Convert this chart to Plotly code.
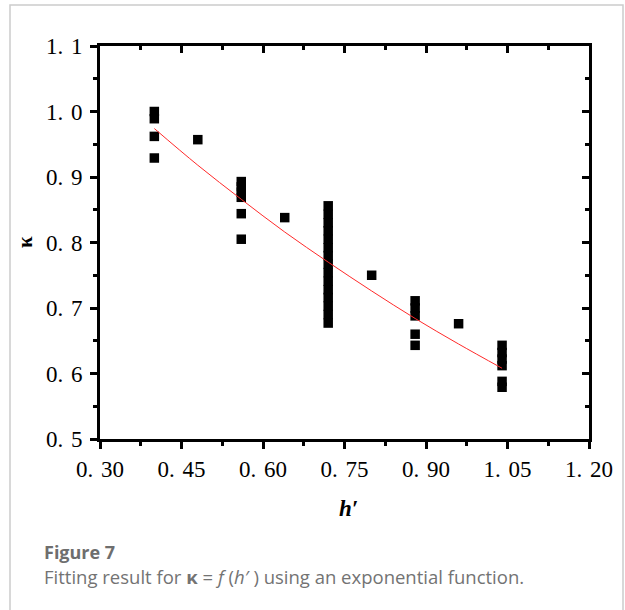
import plotly.graph_objects as go

# ---- data ----
h_points = [0.40, 0.40, 0.40, 0.40,
            0.48,
            0.56, 0.56, 0.56, 0.56, 0.56, 0.56,
            0.64,
            0.72, 0.72, 0.72, 0.72, 0.72, 0.72, 0.72, 0.72, 0.72, 0.72, 0.72, 0.72, 0.72, 0.72, 0.72,
            0.80,
            0.88, 0.88, 0.88, 0.88, 0.88,
            0.96,
            1.04, 1.04, 1.04, 1.04, 1.04, 1.04]
kappa_points = [1.000, 0.989, 0.962, 0.929,
                0.957,
                0.893, 0.885, 0.877, 0.869, 0.844, 0.805,
                0.838,
                0.856, 0.843, 0.830, 0.818, 0.805, 0.792, 0.780, 0.767, 0.754, 0.741, 0.728, 0.716, 0.703, 0.690, 0.677,
                0.750,
                0.711, 0.700, 0.688, 0.660, 0.643,
                0.676,
                0.643, 0.632, 0.622, 0.612, 0.588, 0.579]

fit_h = [0.40, 0.48, 0.56, 0.64, 0.72, 0.80, 0.88, 0.96, 1.04]
fit_kappa = [0.974, 0.918, 0.866, 0.816, 0.770, 0.726, 0.684, 0.645, 0.608]

x_tickvals = [0.30, 0.45, 0.60, 0.75, 0.90, 1.05, 1.20]
x_ticktext = ["0.\u200430", "0.\u200445", "0.\u200460", "0.\u200475", "0.\u200490", "1.\u200405", "1.\u200420"]
y_tickvals = [0.5, 0.6, 0.7, 0.8, 0.9, 1.0, 1.1]
y_ticktext = ["0.\u20045", "0.\u20046", "0.\u20047", "0.\u20048", "0.\u20049", "1.\u20040", "1.\u20041"]

# ---- layout geometry (pixels) ----
W, H = 625, 610
L, R, T, B = 100, 589, 46, 439
def px_x(p):
    return (p - L) / (R - L)
def px_y(p):
    return (B - p) / (B - T)

fig = go.Figure()
fig.add_trace(go.Scatter(x=h_points, y=kappa_points, mode="markers",
                         marker=dict(symbol="square", size=9.5, color="black",
                                     line=dict(width=0)),
                         showlegend=False, hoverinfo="skip"))
fig.add_trace(go.Scatter(x=fit_h, y=fit_kappa, mode="lines",
                         line=dict(color="#ff2a2a", width=1, shape="spline"),
                         showlegend=False, hoverinfo="skip"))
# dummy trace for the mirrored (top/right) tick axes
fig.add_trace(go.Scatter(x=[None], y=[None], xaxis="x2", yaxis="y2",
                         showlegend=False, hoverinfo="skip"))

tickfont = dict(family="Liberation Serif", size=23, color="black")
x_minor = [0.375, 0.525, 0.675, 0.825, 0.975, 1.125]
y_minor = [0.55, 0.65, 0.75, 0.85, 0.95, 1.05]
fig.update_layout(
    width=W, height=H,
    margin=dict(l=L, r=W - R, t=T, b=H - B),
    paper_bgcolor="white", plot_bgcolor="white",
    xaxis=dict(range=[0.30, 1.20], tickvals=x_tickvals, ticktext=x_ticktext,
               ticks="outside", ticklen=7, tickwidth=3, tickcolor="black",
               showline=True, linewidth=3, linecolor="black", mirror=True,
               showgrid=False, zeroline=False, tickfont=tickfont,
               ticklabelstandoff=0,
               minor=dict(tickvals=x_minor, ticks="outside", ticklen=4,
                          tickwidth=3, tickcolor="black")),
    yaxis=dict(range=[0.5, 1.1], tickvals=y_tickvals, ticktext=y_ticktext,
               ticks="outside", ticklen=7, tickwidth=3, tickcolor="black",
               showline=True, linewidth=3, linecolor="black", mirror=True,
               showgrid=False, zeroline=False, tickfont=tickfont,
               ticklabelstandoff=3,
               minor=dict(tickvals=y_minor, ticks="outside", ticklen=4,
                          tickwidth=3, tickcolor="black")),
    xaxis2=dict(range=[0.30, 1.20], overlaying="x", side="top", anchor="y2",
                tickvals=x_tickvals, ticks="inside", ticklen=7, tickwidth=3,
                tickcolor="black", showticklabels=False, showgrid=False,
                zeroline=False, showline=False,
                minor=dict(tickvals=x_minor, ticks="inside", ticklen=4,
                           tickwidth=3, tickcolor="black")),
    yaxis2=dict(range=[0.5, 1.1], overlaying="y", side="right", anchor="x2",
                tickvals=y_tickvals, ticks="inside", ticklen=7, tickwidth=3,
                tickcolor="black", showticklabels=False, showgrid=False,
                zeroline=False, showline=False,
                minor=dict(tickvals=y_minor, ticks="inside", ticklen=4,
                           tickwidth=3, tickcolor="black")),
)

# card border
fig.add_shape(type="rect", xref="paper", yref="paper",
              x0=px_x(10), x1=px_x(623), y0=px_y(640), y1=px_y(5),
              line=dict(color="#cccccc", width=1.5), fillcolor="rgba(0,0,0,0)",
              layer="below")

# axis titles
fig.add_annotation(xref="paper", yref="paper", x=px_x(348), y=px_y(509),
                   text="<b><i>h′</i></b>", showarrow=False,
                   font=dict(family="Liberation Serif", size=23, color="black"),
                   xanchor="center", yanchor="middle")
fig.add_annotation(xref="paper", yref="paper", x=px_x(25), y=px_y(242),
                   text="<b>κ</b>", showarrow=False, textangle=-90,
                   font=dict(family="Liberation Serif", size=21, color="black"),
                   xanchor="center", yanchor="middle")

# caption
fig.add_annotation(xref="paper", yref="paper", x=px_x(42), y=px_y(552),
                   text="<b>Figure 7</b>", showarrow=False,
                   font=dict(family="Open Sans", size=18, color="#6e6e6e"),
                   xanchor="left", yanchor="middle")
fig.add_annotation(xref="paper", yref="paper", x=px_x(42), y=px_y(576),
                   text="Fitting result for <b>κ</b> = <i>f</i> (<i>h′</i> ) using an exponential function.",
                   showarrow=False,
                   font=dict(family="Open Sans", size=18.5, color="#737373"),
                   xanchor="left", yanchor="middle")

fig.write_html("out.html", config={"displayModeBar": False},
               post_script="document.body.style.margin='0';document.body.style.overflow='hidden';")
